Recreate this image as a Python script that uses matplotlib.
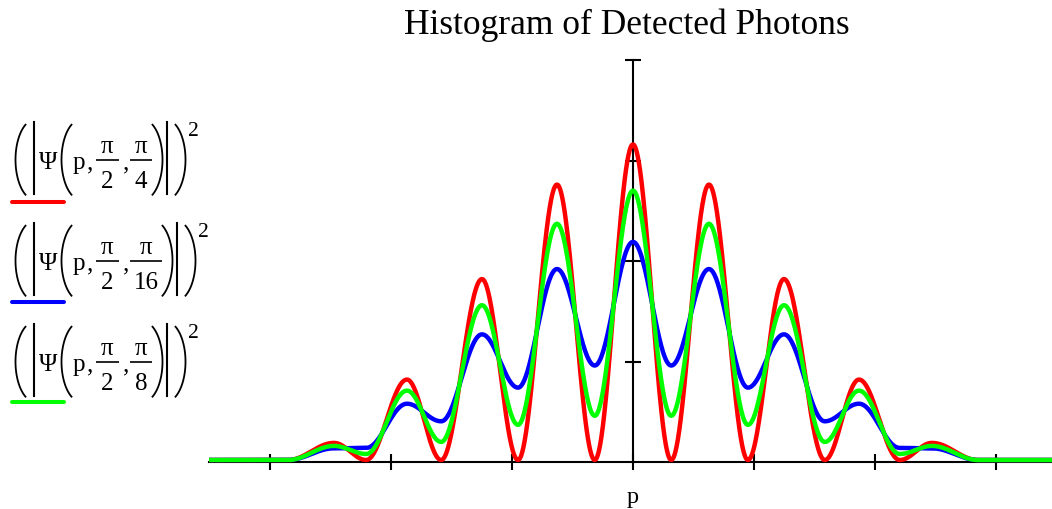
import matplotlib
matplotlib.use("Agg")
import matplotlib.pyplot as plt
from matplotlib.lines import Line2D
import numpy as np

# extrema positions along p (right half, axis tick = 1 unit), mirrored for left half
extrema_p = [0.0, 0.316, 0.628, 0.950, 1.248, 1.585, 1.868, 2.205, 2.471, 2.85]

# heights at those extrema (peak, trough, peak, ...), last value = tail
red_vals = [3.16, 0.02, 2.76, 0.02, 1.82, 0.02, 0.82, 0.02, 0.19, 0.02]
blue_vals = [2.19, 0.96, 1.92, 0.74, 1.27, 0.405, 0.58, 0.14, 0.136, 0.02]
green_vals = [2.70, 0.46, 2.37, 0.37, 1.56, 0.20, 0.71, 0.08, 0.16, 0.02]

# third argument of Psi for each legend entry (denominator under pi)
legend_denoms = ['4', '16', '8']
series_colors = ['#ff0000', '#0000ff', '#00ff00']

x_ticks = [-3, -2, -1, 0, 1, 2, 3]
y_ticks = [1, 2, 3, 4]

SERIF = 'Liberation Serif'


def smooth_through(xs, ys, grid):
    # half-cosine easing between consecutive extrema (flat at each extremum)
    xs = np.asarray(xs)
    ys = np.asarray(ys)
    out = np.full_like(grid, ys[-1])
    for i in range(len(xs) - 1):
        m = (grid >= xs[i]) & (grid <= xs[i + 1])
        t = (grid[m] - xs[i]) / (xs[i + 1] - xs[i])
        out[m] = ys[i] + (ys[i + 1] - ys[i]) * (1 - np.cos(np.pi * t)) / 2
    return out


def mirrored(pos, vals):
    pos = np.asarray(pos)
    vals = np.asarray(vals)
    xs = np.concatenate([-pos[:0:-1], pos])
    ys = np.concatenate([vals[:0:-1], vals])
    return xs, ys


W, H = 1052, 510
fig = plt.figure(figsize=(W / 100, H / 100), dpi=100)
ax = fig.add_axes([209 / W, (H - 471) / H, 843 / W, (471 - 61) / H])


def fx(x):
    return np.asarray(x) / W


def fy(y):
    return 1 - np.asarray(y) / H


x_lo, x_hi = -3.504, 3.463
y_lo, y_hi = -0.0796, 4.0
grid = np.linspace(x_lo, x_hi, 3000)

for vals, color in zip([red_vals, blue_vals, green_vals], series_colors):
    xs, ys = mirrored(extrema_p, vals)
    y = smooth_through(xs, ys, grid)
    ax.plot(grid, y, color=color, lw=3.2, clip_on=False, zorder=3,
            solid_capstyle='butt')

ax.set_xlim(x_lo, x_hi)
ax.set_ylim(y_lo, y_hi)

for s in ['top', 'right']:
    ax.spines[s].set_visible(False)
ax.spines['left'].set_position(('data', 0))
ax.spines['bottom'].set_position(('data', 0))
ax.spines['left'].set_bounds(0, y_hi)
for s in ['left', 'bottom']:
    ax.spines[s].set_linewidth(1.5)
    ax.spines[s].set_zorder(2)

ax.set_xticks(x_ticks)
ax.set_yticks(y_ticks)
ax.tick_params(direction='inout', length=11.5, width=1.5,
               labelbottom=False, labelleft=False)

fig.text(fx(626.7), fy(34.3), 'Histogram of Detected Photons',
         ha='center', va='baseline', family=SERIF, fontsize=25.5)
fig.text(fx(633), fy(502.7), 'p', ha='center', va='baseline',
         family=SERIF, fontsize=17.5)


# legend: Mathcad-style expressions, built piece by piece
def put(x, y, s, size=18, ha='left'):
    fig.text(fx(x), fy(y), s, ha=ha, va='baseline', family=SERIF,
             fontsize=size)


def paren(x0, yc, left=True):
    # tall thin bracket, 10 px wide and 70 px high
    rx, ry = 20, 40.4
    t = np.radians(np.linspace(-60, 60, 60))
    if left:
        xs = x0 + rx - rx * np.cos(t)
    else:
        xs = x0 + 10 - rx + rx * np.cos(t)
    ys = yc + ry * np.sin(t)
    fig.add_artist(Line2D(fx(xs), fy(ys), color='black', lw=1.3))


def vbar(x, y0, y1):
    fig.add_artist(Line2D(fx([x, x]), fy([y0, y1]), color='black', lw=1.5))


def hbar(x0, x1, y, color='black', lw=1.2, cap='butt'):
    fig.add_artist(Line2D(fx([x0, x1]), fy([y, y]), color=color, lw=lw,
                          solid_capstyle=cap))


for k, (den, color) in enumerate(zip(legend_denoms, series_colors)):
    dy = 101 * k
    axis_y = 160.7 + dy
    base = 169 + dy
    paren(15.5, axis_y, left=True)
    vbar(34.3, 122.7 + dy, 195 + dy)
    put(38.8, base, '\u03a8')
    paren(61.5, axis_y, left=True)
    put(73, base, 'p')
    put(87, base, ',')
    # first fraction pi/2
    hbar(96, 118.5, axis_y)
    put(107.2, 152.7 + dy, '\u03c0', ha='center')
    put(107.2, 188.3 + dy, '2', ha='center')
    put(123, base, ',')
    # second fraction pi/den
    bw = 22 + 10 * (len(den) - 1)
    x_end = 130 + bw
    hbar(130, x_end, axis_y)
    put(130 + bw / 2, 152.7 + dy, '\u03c0', ha='center')
    put(130 + bw / 2, 188.3 + dy, den, ha='center')
    paren(x_end + 0.5, axis_y, left=False)
    vbar(x_end + 15, 122.7 + dy, 195 + dy)
    paren(x_end + 23.5, axis_y, left=False)
    put(x_end + 36, 136 + dy, '2', size=15.5)
    hbar(12, 64, 202.7 + 100 * k, color=color, lw=2.9, cap='round')

fig.savefig('out.png', dpi=100)
